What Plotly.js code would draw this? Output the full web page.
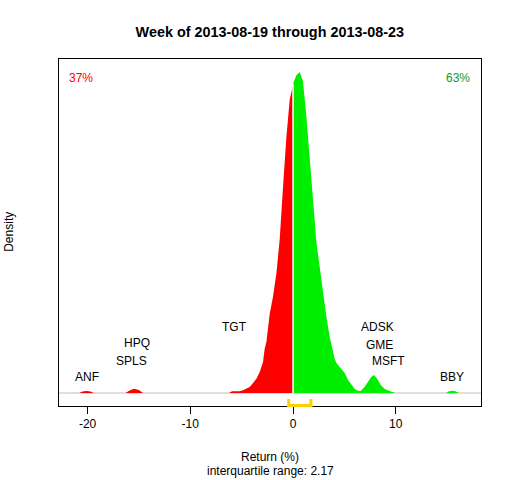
<!DOCTYPE html>
<html>
<head>
<meta charset="utf-8">
<script src="https://cdn.plot.ly/plotly-3.0.1.min.js"></script>
<style>html,body{margin:0;padding:0;background:#fff;}#chart{width:512px;height:480px;}</style>
</head>
<body>
<div id="chart"></div>
<script>
// ---- data ----
var negReturn = [-20.8,-20.5,-20.1,-19.7,-19.4,-16.3,-16.0,-15.5,-15.0,-14.6,-6.2,-6.1,-5.9,-5.2,-4.87,-4.54,-4.22,-3.89,-3.56,-3.24,-3.08,-2.92,-2.76,-2.59,-2.27,-1.95,-1.62,-1.30,-0.97,-0.64,-0.32,-0.06,0];
var negDensity = [0,0.0012,0.0016,0.0012,0,0,0.0016,0.0034,0.0023,0,0,0.0008,0.0013,0.0013,0.0021,0.0034,0.0047,0.0078,0.0112,0.0164,0.0211,0.0242,0.0343,0.0398,0.0616,0.0749,0.0928,0.1193,0.1607,0.1997,0.2285,0.2371,0.2395];
var posReturn = [0,0.33,0.65,0.97,1.30,1.63,1.95,2.28,2.60,2.92,3.25,3.57,3.90,4.06,4.22,4.38,4.71,5.03,5.36,5.69,6.01,6.33,6.60,6.98,7.30,7.63,7.89,8.22,8.54,8.93,9.42,9.83,9.95,14.87,15.2,15.5,15.8,16.16];
var posDensity = [0.2410,0.2473,0.2499,0.2426,0.2153,0.1786,0.1505,0.1170,0.0983,0.0772,0.0593,0.0437,0.0304,0.0265,0.0234,0.0218,0.0187,0.0156,0.0101,0.0062,0.0031,0.0018,0.0016,0.0049,0.0088,0.0127,0.0140,0.0107,0.0062,0.0031,0.0016,0.0005,0,0,0.0014,0.0018,0.0014,0];
var tickValues = [-20,-10,0,10];
var tickLabels = ["-20","-10","0","10"];
var stockNames = ["ANF","SPLS","HPQ","TGT","ADSK","GME","MSFT","BBY"];
var stockReturn = [-20.1,-15.74,-15.2,-5.68,8.25,8.41,9.25,15.45];
var stockLabelLevel = [0.0121,0.025,0.039,0.0511,0.0511,0.0377,0.0246,0.0121];
var quartile1 = -0.42;
var quartile3 = 1.75;
var pctNegative = 37;
var pctPositive = 63;
var titleText = "Week of 2013-08-19 through 2013-08-23";

// ---- chart ----
var FONT = "Liberation Sans, Arial, sans-serif";
var traces = [
  {x: negReturn, y: negDensity, type: "scatter", mode: "lines", fill: "tozeroy",
   fillcolor: "#ff0000", line: {width: 0, color: "#ff0000"}, hoverinfo: "skip"},
  {x: posReturn, y: posDensity, type: "scatter", mode: "lines", fill: "tozeroy",
   fillcolor: "#00ee00", line: {width: 0, color: "#00ee00"}, hoverinfo: "skip"}
];

var annotations = [];
for (var i = 0; i < stockNames.length; i++) {
  annotations.push({x: stockReturn[i], y: stockLabelLevel[i], xref: "x", yref: "y",
    text: stockNames[i], showarrow: false, xanchor: "center", yanchor: "middle",
    font: {family: FONT, size: 12, color: "#000"}});
}
annotations.push({x: 0.019, y: 0.946, xref: "paper", yref: "paper", text: pctNegative + "%",
  showarrow: false, xanchor: "left", yanchor: "middle", font: {family: FONT, size: 12, color: "#ff0000"}});
annotations.push({x: 0.979, y: 0.946, xref: "paper", yref: "paper", text: pctPositive + "%",
  showarrow: false, xanchor: "right", yanchor: "middle", font: {family: FONT, size: 12, color: "#1a961a"}});
annotations.push({x: 0.5, y: -0.146, xref: "paper", yref: "paper", text: "Return (%)",
  showarrow: false, xanchor: "center", yanchor: "middle", font: {family: FONT, size: 12, color: "#000"}});
annotations.push({x: 0.5, y: -0.186, xref: "paper", yref: "paper",
  text: "interquartile range: " + (quartile3 - quartile1).toFixed(2),
  showarrow: false, xanchor: "center", yanchor: "middle", font: {family: FONT, size: 12, color: "#000"}});
annotations.push({x: -0.1185, y: 0.502, xref: "paper", yref: "paper", text: "Density", textangle: -90,
  showarrow: false, xanchor: "center", yanchor: "middle", font: {family: FONT, size: 12, color: "#000"}});

var shapes = [
  {type: "line", xref: "paper", yref: "y", x0: 0, x1: 1, y0: 0, y1: 0, layer: "below",
   line: {color: "#bebebe", width: 1}},
  {type: "line", xref: "x", yref: "y", x0: 0, x1: 0, y0: 0, y1: posDensity[0], layer: "above",
   line: {color: "#ffffff", width: 1.5}},
  {type: "path", xref: "x", yref: "paper",
   path: "M " + quartile1 + ",0.0202 L " + quartile1 + ",0.0017 L " + quartile3 + ",0.0017 L " + quartile3 + ",0.0202",
   line: {color: "#ffd000", width: 3}}
];

var layout = {
  width: 512, height: 480,
  margin: {l: 59, r: 31, t: 59, b: 74, pad: 0},
  paper_bgcolor: "#fff", plot_bgcolor: "#fff",
  showlegend: false,
  title: {text: "<b>" + titleText + "</b>", x: 0.527, xanchor: "center", y: 0.933, yanchor: "middle",
    font: {family: FONT, size: 14.4, color: "#000"}},
  xaxis: {range: [-22.78, 18.3], showgrid: false, zeroline: false, showline: true, mirror: true,
    linecolor: "#000", linewidth: 1, ticks: "outside", ticklen: 7, tickwidth: 1, tickcolor: "#000",
    tickmode: "array", tickvals: tickValues, ticktext: tickLabels,
    tickfont: {family: FONT, size: 12, color: "#000"}},
  yaxis: {range: [-0.0101, 0.2600], showgrid: false, zeroline: false, showline: true, mirror: true,
    linecolor: "#000", linewidth: 1, ticks: "", showticklabels: false},
  annotations: annotations,
  shapes: shapes
};

Plotly.newPlot("chart", traces, layout, {staticPlot: true, displayModeBar: false});
</script>
</body>
</html>
